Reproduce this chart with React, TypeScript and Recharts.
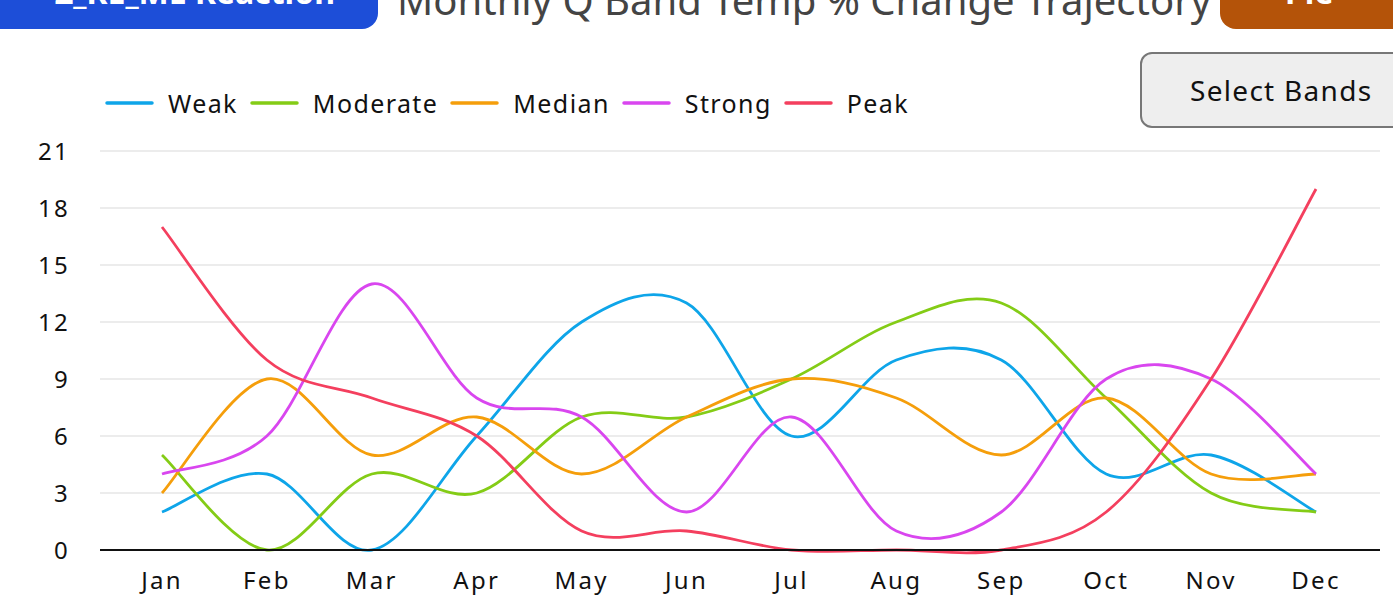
import React from "react";
import { LineChart, Line, XAxis, YAxis, CartesianGrid } from "recharts";

const months = ["Jan", "Feb", "Mar", "Apr", "May", "Jun", "Jul", "Aug", "Sep", "Oct", "Nov", "Dec"];
const weak = [2, 4, 0, 6, 12, 13, 6, 10, 10, 4, 5, 2];
const moderate = [5, 0, 4, 3, 7, 7, 9, 12, 13, 8, 3, 2];
const median = [3, 9, 5, 7, 4, 7, 9, 8, 5, 8, 4, 4];
const strong = [4, 6, 14, 8, 7, 2, 7, 1, 2, 9, 9, 4];
const peak = [17, 10, 8, 6, 1, 1, 0, 0, 0, 2, 9, 19];
const yTicks = [0, 3, 6, 9, 12, 15, 18, 21];

const series = [
  { key: "Weak", values: weak, color: "#0ea5e9" },
  { key: "Moderate", values: moderate, color: "#84cc16" },
  { key: "Median", values: median, color: "#f59e0b" },
  { key: "Strong", values: strong, color: "#d946ef" },
  { key: "Peak", values: peak, color: "#f43f5e" },
];

const data = months.map((m, i) => {
  const row: Record<string, string | number> = { month: m };
  series.forEach((s) => (row[s.key] = s.values[i]));
  return row;
});

// Cardinal spline with tension 0 (uniform Catmull-Rom), as a d3-style curve factory
function cardinalCurve(context: any) {
  let pts: [number, number][] = [];
  return {
    areaStart() {},
    areaEnd() {},
    lineStart() {
      pts = [];
    },
    lineEnd() {
      const n = pts.length;
      if (n === 0) return;
      context.moveTo(pts[0][0], pts[0][1]);
      for (let i = 0; i < n - 1; i++) {
        const p0 = pts[Math.max(i - 1, 0)];
        const p1 = pts[i];
        const p2 = pts[i + 1];
        const p3 = pts[Math.min(i + 2, n - 1)];
        context.bezierCurveTo(
          p1[0] + (p2[0] - p0[0]) / 6,
          p1[1] + (p2[1] - p0[1]) / 6,
          p2[0] - (p3[0] - p1[0]) / 6,
          p2[1] - (p3[1] - p1[1]) / 6,
          p2[0],
          p2[1]
        );
      }
    },
    point(x: number, y: number) {
      pts.push([+x, +y]);
    },
  };
}

const FONT = "'Noto Sans', sans-serif";
const tickStyle = { fontFamily: FONT, fontSize: 24, fill: "#111", letterSpacing: 2.3 };

export default function App() {
  return (
    <div style={{ position: "fixed", left: 0, top: 0, width: 1393, height: 605, overflow: "hidden", background: "#fff" }}>
      <div
        style={{
          position: "absolute", left: -20, top: -40, width: 398, height: 69, background: "#1d4ed8",
          borderRadius: 16, color: "#fff", fontFamily: FONT, fontWeight: 700, fontSize: 32,
          display: "flex", alignItems: "flex-end", justifyContent: "flex-end", boxSizing: "border-box",
          paddingRight: 43, paddingBottom: 21, lineHeight: 1, whiteSpace: "nowrap",
        }}
      >
        Z_RE_ME Reaction
      </div>
      <div
        style={{
          position: "absolute", left: 397, top: -20, fontFamily: FONT, fontSize: 40, color: "#444",
          whiteSpace: "nowrap", lineHeight: 1,
        }}
      >
        Monthly Q Band Temp % Change Trajectory
      </div>
      <div
        style={{
          position: "absolute", left: 1220, top: -40, width: 260, height: 69, background: "#b45309",
          borderRadius: 16, color: "#fff", fontFamily: FONT, fontWeight: 700, fontSize: 32,
          display: "flex", alignItems: "flex-end", boxSizing: "border-box",
          paddingLeft: 65, paddingBottom: 21, lineHeight: 1, whiteSpace: "nowrap",
        }}
      >
        Pie
      </div>
      <div
        style={{
          position: "absolute", left: 1140, top: 52, width: 280, height: 76, background: "#eeeeee",
          border: "2px solid #777", borderRadius: 12, boxSizing: "border-box", fontFamily: FONT,
          fontSize: 28, letterSpacing: 1.3, color: "#111", display: "flex", alignItems: "center", paddingLeft: 48,
          whiteSpace: "nowrap",
        }}
      >
        Select Bands
      </div>
      <div
        style={{
          position: "absolute", left: 105, top: 86, height: 34, display: "flex", alignItems: "center",
          fontFamily: FONT, fontSize: 25, letterSpacing: 1.4, color: "#111", whiteSpace: "nowrap",
        }}
      >
        {series.map((s) => (
          <div key={s.key} style={{ display: "flex", alignItems: "center", marginRight: 12 }}>
            <svg width={49} height={8} style={{ marginRight: 14 }}>
              <line x1={2} y1={4} x2={47} y2={4} stroke={s.color} strokeWidth={3.5} strokeLinecap="round" />
            </svg>
            <span>{s.key}</span>
          </div>
        ))}
      </div>
      <div style={{ position: "absolute", left: 0, top: 0 }}>
        <LineChart width={1393} height={605} data={data} margin={{ top: 151, right: 13, bottom: 0, left: 0 }}>
          <CartesianGrid vertical={false} stroke="#e6e6e6" strokeWidth={1.5} />
          <XAxis
            dataKey="month"
            padding={{ left: 62, right: 64 }}
            height={55}
            tickLine={false}
            tickSize={0}
            axisLine={{ stroke: "#111", strokeWidth: 2 }}
            tick={tickStyle}
            tickMargin={22}
          />
          <YAxis
            width={100}
            domain={[0, 21]}
            ticks={yTicks}
            axisLine={false}
            tickLine={false}
            tickSize={0}
            tickMargin={30}
            tick={tickStyle}
          />
          {series.map((s) => (
            <Line
              key={s.key}
              dataKey={s.key}
              type={cardinalCurve as any}
              stroke={s.color}
              strokeWidth={2.8}
              dot={false}
              activeDot={false}
              isAnimationActive={false}
            />
          ))}
        </LineChart>
      </div>
    </div>
  );
}
